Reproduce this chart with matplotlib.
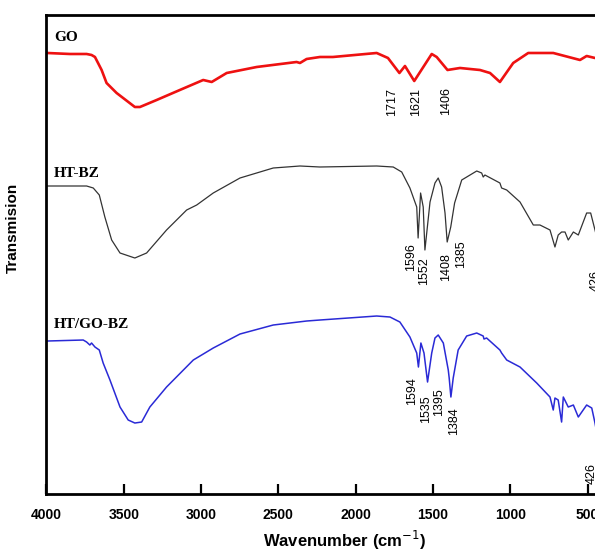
import matplotlib
matplotlib.use("Agg")
import matplotlib.pyplot as plt

# FTIR spectra (transmission, arbitrary units, curves are vertically offset)
go_wn = [3995, 3848, 3740, 3708, 3686, 3643, 3611, 3546, 3428, 3395, 3287, 3137,
         2986, 2931, 2834, 2640, 2382, 2360, 2317, 2231, 2147, 1864, 1791, 1717,
         1681, 1621, 1508, 1476, 1406, 1325, 1196, 1131, 1067, 981, 884, 722,
         549, 506, 452, 420]
go_t = [441, 440, 440, 439, 437, 424, 411, 401, 387, 387, 394, 404,
        414, 412, 421, 427, 432, 431, 435, 437, 437, 441, 436, 421,
        428, 413, 440, 437, 424, 426, 424, 421, 412, 431, 441, 441,
        434, 438, 436, 437]

htbz_wn = [3995, 3740, 3697, 3658, 3622, 3578, 3524, 3428, 3352, 3223, 3093, 3028,
           2921, 2748, 2533, 2360, 2231, 1864, 1757, 1702, 1649, 1605, 1596, 1580,
           1563, 1552, 1519, 1487, 1466, 1444, 1422, 1408, 1385, 1360, 1314, 1217,
           1185, 1175, 1164, 1067, 1056, 1023, 937, 851, 808, 743, 711, 690,
           668, 646, 625, 592, 560, 506, 480, 452, 420]
htbz_t = [308, 308, 306, 299, 277, 254, 241, 236, 241, 264, 284, 289,
          301, 316, 326, 328, 327, 328, 327, 322, 306, 287, 256, 301,
          287, 244, 292, 311, 316, 307, 281, 252, 267, 291, 314, 323,
          321, 317, 319, 311, 306, 304, 292, 269, 269, 264, 247, 259,
          262, 262, 254, 262, 259, 281, 281, 264, 244]

htgo_wn = [3995, 3762, 3740, 3719, 3708, 3686, 3658, 3633, 3589, 3524, 3471, 3428,
           3384, 3331, 3223, 3050, 2921, 2748, 2533, 2317, 2231, 1864, 1778, 1714,
           1649, 1605, 1594, 1578, 1558, 1535, 1508, 1487, 1466, 1433, 1401, 1395,
           1384, 1369, 1337, 1282, 1217, 1175, 1170, 1153, 1067, 1056, 1023, 937,
           829, 743, 722, 711, 690, 668, 657, 625, 592, 560, 506, 473, 452, 420]
htgo_t = [153, 154, 152, 149, 151, 147, 144, 131, 114, 87, 74, 71,
          72, 87, 107, 134, 146, 160, 169, 173, 174, 178, 177, 172,
          157, 141, 127, 151, 141, 112, 141, 156, 159, 151, 124, 116,
          97, 116, 144, 158, 161, 158, 155, 156, 144, 141, 134, 127,
          111, 97, 84, 96, 94, 72, 97, 87, 89, 77, 89, 86, 71, 44]

# peak annotations: text, x (wavenumber) and top of the text
go_peaks = ["1717", "1621", "1406"]
go_peak_x = [1762, 1610, 1416]
go_peak_top = [406, 406, 407]

htbz_peaks = ["1596", "1552", "1408", "1385", "426"]
htbz_peak_x = [1642, 1558, 1416, 1319, 445]
htbz_peak_top = [251, 237, 241, 254, 224]

htgo_peaks = ["1594", "1535", "1395", "1384", "426"]
htgo_peak_x = [1636, 1545, 1461, 1364, 472]
htgo_peak_top = [117, 99, 106, 87, 31]

fig = plt.figure(figsize=(5.95, 5.51), dpi=100)
ax = fig.add_axes([0.078, 0.1034, 0.922, 0.8694])

ax.plot(go_wn, go_t, color="#ee1111", lw=1.9)
ax.plot(htbz_wn, htbz_t, color="#333333", lw=0.9)
ax.plot(htgo_wn, htgo_t, color="#2a2ad6", lw=1.1)

serif = ["Liberation Serif", "DejaVu Serif"]
sans = ["Liberation Sans", "DejaVu Sans"]

ax.text(3950, 456, "GO", family=serif, fontweight="bold", fontsize=11, va="center")
ax.text(3950, 321, "HT-BZ", family=serif, fontweight="bold", fontsize=11, va="center")
ax.text(3950, 170, "HT/GO-BZ", family=serif, fontweight="bold", fontsize=11, va="center")

for labels, xs, tops in [(go_peaks, go_peak_x, go_peak_top),
                         (htbz_peaks, htbz_peak_x, htbz_peak_top),
                         (htgo_peaks, htgo_peak_x, htgo_peak_top)]:
    for lab, x, top in zip(labels, xs, tops):
        ax.text(x, top, lab, rotation=90, ha="center", va="top",
                family=sans, fontsize=9, clip_on=False)

ax.set_xlim(4000, 452)
ax.set_ylim(0, 479)
ax.set_xticks([4000, 3500, 3000, 2500, 2000, 1500, 1000, 500])
ax.set_yticks([])
ax.tick_params(axis="x", direction="in", length=7, width=1.6, pad=10)
for t in ax.get_xticklabels():
    t.set_fontweight("bold")
    t.set_family(sans)
    t.set_fontsize(10)

for s in ["left", "bottom", "top"]:
    ax.spines[s].set_linewidth(2)
ax.spines["right"].set_visible(False)

ax.set_xlabel("Wavenumber (cm$^{-1}$)", fontweight="bold", family=sans, fontsize=12)
ax.xaxis.set_label_coords(0.544, -0.072)
ax.set_ylabel("Transmision", fontweight="bold", family=sans, fontsize=11)
ax.yaxis.set_label_coords(-0.048, 0.555)

fig.savefig("out.png", dpi=100)
